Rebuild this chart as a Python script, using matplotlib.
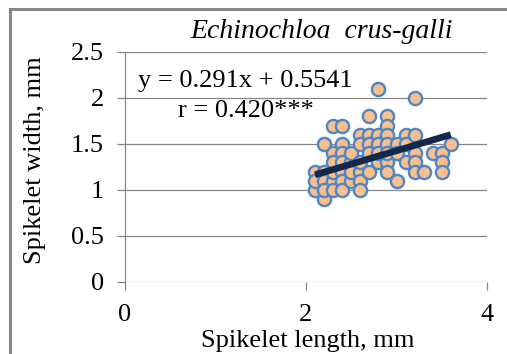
import numpy as np
import matplotlib
matplotlib.use("Agg")
from matplotlib import pyplot as plt
from matplotlib.patches import Rectangle

# spikelet length / width (mm)
length = [2.1, 2.1, 2.1,
          2.2, 2.2, 2.2, 2.2, 2.2,
          2.3, 2.3, 2.3, 2.3, 2.3, 2.3,
          2.4, 2.4, 2.4, 2.4, 2.4, 2.4, 2.4,
          2.5, 2.5, 2.5, 2.5,
          2.6, 2.6, 2.6, 2.6, 2.6, 2.6,
          2.7, 2.7, 2.7, 2.7, 2.7,
          2.8, 2.8, 2.8, 2.8, 2.8,
          2.9, 2.9, 2.9, 2.9, 2.9, 2.9, 2.9,
          3.0, 3.0, 3.0,
          3.1, 3.1, 3.1,
          3.2, 3.2, 3.2, 3.2, 3.2,
          3.3, 3.4, 3.5, 3.5, 3.5, 3.6]
width = [1.2, 1.0, 1.1,
         1.5, 0.9, 1.2, 1.1, 1.0,
         1.7, 1.4, 1.1, 1.0, 1.2, 1.3,
         1.7, 1.5, 1.4, 1.3, 1.2, 1.1, 1.0,
         1.1, 1.3, 1.2, 1.4,
         1.6, 1.5, 1.2, 1.1, 1.0, 1.3,
         1.8, 1.6, 1.5, 1.2, 1.4,
         2.1, 1.6, 1.5, 1.3, 1.4,
         1.8, 1.7, 1.6, 1.5, 1.3, 1.2, 1.4,
         1.1, 1.5, 1.4,
         1.6, 1.3, 1.5,
         2.0, 1.6, 1.4, 1.3, 1.2,
         1.2, 1.4, 1.4, 1.3, 1.2, 1.5]
slope, intercept = 0.291, 0.5541
xticks = [0, 2, 4]
yticks = [0, 0.5, 1, 1.5, 2, 2.5]
yticklabels = ["0", "0.5", "1", "1.5", "2", "2.5"]

plt.rcParams["font.family"] = ["Liberation Serif", "DejaVu Serif"]
grid_c = "#868686"
fs = 19

fig = plt.figure(figsize=(5.07, 3.54), dpi=100)
ax = fig.add_axes([125 / 507, 72 / 354, 362 / 507, 230 / 354])

ax.set_xlim(0, 4)
ax.set_ylim(0, 2.5)
ax.set_xticks(xticks)
ax.set_yticks(yticks)
ax.set_yticklabels(yticklabels)
ax.grid(axis="y", color=grid_c, linewidth=0.9)
ax.set_axisbelow(True)
for s in ["top", "right", "bottom"]:
    ax.spines[s].set_visible(False)
ax.spines["left"].set_color(grid_c)
ax.spines["left"].set_linewidth(0.9)
ax.tick_params(axis="both", colors=grid_c, labelcolor="black", labelsize=fs,
               direction="out", length=6, width=0.9)
ax.tick_params(axis="y", pad=9)
ax.tick_params(axis="x", pad=10)

ax.scatter(length, width, s=90, facecolor="#F9BF8C", edgecolor="#4F86C6",
           linewidth=1.7, zorder=3)

xl = np.array([min(length), max(length)])
ax.plot(xl, slope * xl + intercept, color="#14284A", linewidth=4.8,
        solid_capstyle="butt", zorder=4)

ax.text(0.14, 2.12, "y = 0.291x + 0.5541", fontsize=fs, ha="left", va="baseline")
ax.text(0.585, 1.79, "r = 0.420***", fontsize=fs, ha="left", va="baseline")

ax.set_xlabel("Spikelet length, mm", fontsize=fs, va="center")
ax.set_ylabel("Spikelet width, mm", fontsize=fs, va="center")
ax.xaxis.set_label_coords((308 - 125) / 362, -(341 - 282) / 230)
ax.yaxis.set_label_coords(-(125 - 35) / 362, (282 - 160) / 230)

fig.text(322 / 507, 1 - 31 / 354, "Echinochloa  crus-galli", fontsize=20,
         style="italic", ha="center", va="center")

fig.patches.append(Rectangle((9.5 / 507, -0.1), 1.2, 1.1 - 9.5 / 354,
                             transform=fig.transFigure, fill=False,
                             edgecolor="#888888", linewidth=2.2))

fig.savefig("out.png", dpi=100)
